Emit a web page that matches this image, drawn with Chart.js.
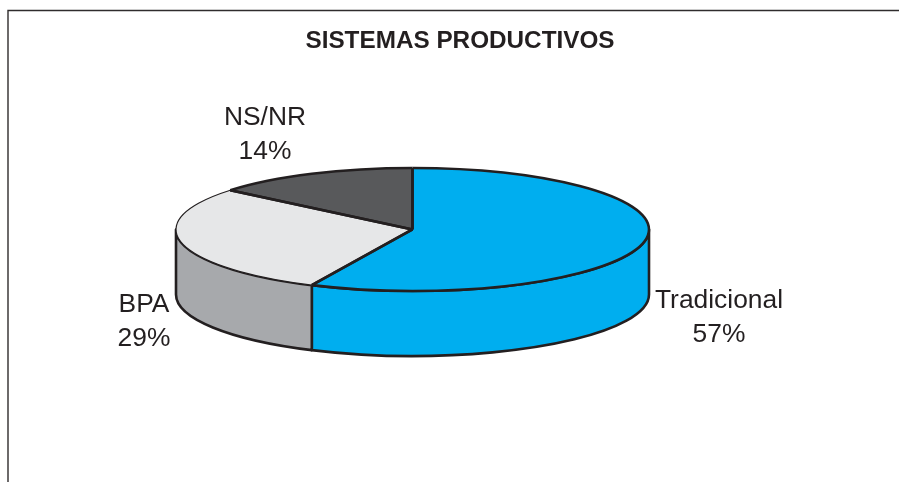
<!DOCTYPE html>
<html>
<head>
<meta charset="utf-8">
<style>html,body{margin:0;padding:0;background:#fff}#w{width:899px;height:482px}canvas{display:block}</style>
<script src="https://cdn.jsdelivr.net/npm/chart.js@4/dist/chart.umd.min.js"></script>
</head>
<body>
<div id="w"><canvas id="c" width="899" height="482"></canvas></div>
<script>
const categories = ["Tradicional", "BPA", "NS/NR"];
const shares = [57, 29, 14];
const topColors = ["#00aeef", "#e6e7e8", "#58595b"];
const wallColors = ["#00aeef", "#a7a9ac", "#58595b"];
const chartTitle = "SISTEMAS PRODUCTIVOS";

const INK = "#231f20";
const TILT = 61.5 / 236.5;
const DEPTH = 65;
const LABEL_SPOTS = [[719, 301], [144, 305], [265, 118]];
const RIM = [2.6, 1.2, 2.6];
const EDGE = 2.6;

const pie3d = {
  id: "pie3d",
  afterLayout(chart) {
    chart.titleBlock.left = 21;
    chart.titleBlock.right = 899;
  },
  beforeDraw(chart) {
    const c = chart.ctx;
    c.save();
    c.strokeStyle = "#2f2c2d";
    c.lineWidth = 1.4;
    c.beginPath();
    c.moveTo(8, 482);
    c.lineTo(8, 10.5);
    c.lineTo(899, 10.5);
    c.stroke();
    c.restore();
  },
  beforeDatasetsDraw(chart) {
    const c = chart.ctx;
    const arcs = chart.getDatasetMeta(0).data;
    c.save();
    c.lineJoin = "round";
    // side wall: the part of each slice that faces the viewer
    arcs.forEach((a, i) => {
      const two = Math.PI * 2;
      let s = a.startAngle, e = a.endAngle;
      while (s < 0) { s += two; e += two; }
      const ranges = [[s, e], [s - two, e - two]];
      ranges.forEach(([a0, a1]) => {
        const from = Math.max(a0, 0), to = Math.min(a1, Math.PI);
        if (to <= from) return;
        const r = a.outerRadius;
        c.save();
        c.translate(a.x, a.y);
        c.scale(1, TILT);
        c.beginPath();
        c.arc(0, 0, r, from, to);
        c.arc(0, DEPTH / TILT, r, to, from, true);
        c.closePath();
        c.restore();
        c.fillStyle = wallColors[i];
        c.fill();
        c.strokeStyle = INK;
        c.lineWidth = EDGE;
        c.stroke();
      });
    });
    // top face: library arc elements, squashed
    arcs.forEach((a) => {
      c.save();
      c.translate(a.x, a.y);
      c.scale(1, TILT);
      c.translate(-a.x, -a.y);
      a.draw(c);
      c.restore();
    });
    arcs.forEach((a, i) => {
      c.save();
      c.translate(a.x, a.y);
      c.scale(1, TILT);
      c.beginPath();
      c.arc(0, 0, a.outerRadius, a.startAngle, a.endAngle);
      c.restore();
      c.strokeStyle = INK;
      c.lineWidth = RIM[i];
      c.stroke();
    });
    arcs.forEach((a) => {
      [a.startAngle, a.endAngle].forEach((t) => {
        c.beginPath();
        c.moveTo(a.x, a.y);
        c.lineTo(a.x + a.outerRadius * Math.cos(t), a.y + a.outerRadius * TILT * Math.sin(t));
        c.strokeStyle = INK;
        c.lineWidth = EDGE;
        c.stroke();
      });
    });
    c.restore();
    return false;
  },
  afterDraw(chart) {
    const c = chart.ctx;
    c.save();
    c.fillStyle = INK;
    c.font = "26.4px 'Liberation Sans', Arial, sans-serif";
    c.textAlign = "center";
    c.textBaseline = "middle";
    categories.forEach((name, i) => {
      const [x, y] = LABEL_SPOTS[i];
      c.fillText(name, x, y);
      c.fillText(shares[i] + "%", x, y + 34);
    });
    c.restore();
  }
};

new Chart(document.getElementById("c"), {
  type: "pie",
  data: {
    labels: categories,
    datasets: [{
      data: shares,
      backgroundColor: topColors,
      borderWidth: 0,
      radius: 236.5
    }]
  },
  options: {
    responsive: false,
    animation: false,
    layout: { padding: { left: 0, right: 74, top: 0, bottom: 78.7 } },
    plugins: {
      legend: { display: false },
      tooltip: { enabled: false },
      title: {
        display: true,
        text: chartTitle,
        color: INK,
        font: { family: "'Liberation Sans', Arial, sans-serif", size: 24.3, weight: "bold" },
        padding: { top: 26.5, bottom: 0 }
      }
    }
  },
  plugins: [pie3d]
});
</script>
</body>
</html>
